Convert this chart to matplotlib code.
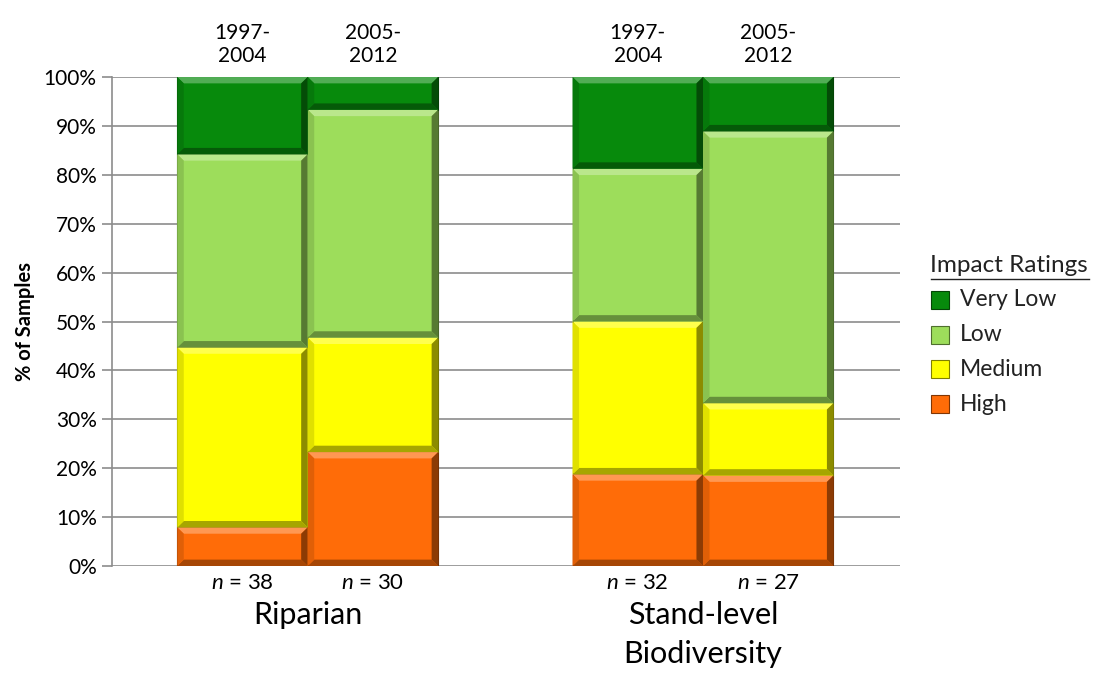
import numpy as np
import matplotlib.pyplot as plt
from matplotlib.patches import Polygon, Rectangle
from matplotlib.lines import Line2D
from matplotlib.colors import to_rgb

plt.rcParams['font.family'] = ['Lato', 'DejaVu Sans']
plt.rcParams['mathtext.fontset'] = 'custom'
plt.rcParams['mathtext.it'] = 'Lato:italic'
plt.rcParams['mathtext.rm'] = 'Lato'

# share of samples per rating (%), bottom to top: High, Medium, Low, Very Low
periods = ['1997-\n2004', '2005-\n2012', '1997-\n2004', '2005-\n2012']
groups = ['Riparian', 'Stand-level\nBiodiversity']
n_samples = [38, 30, 32, 27]
ratings = ['High', 'Medium', 'Low', 'Very Low']
high = [7.9, 23.3, 18.75, 18.5]
medium = [36.8, 23.4, 31.25, 14.8]
low = [39.5, 46.6, 31.25, 55.6]
very_low = [15.8, 6.7, 18.75, 11.1]
colors = ['#ff6c08', '#ffff00', '#9ddd5b', '#078a0c']

xpos = np.array([0, 1, 3.03, 4.03])
width = 1.0

fig = plt.figure(figsize=(10.97, 6.75), dpi=100)
ax = fig.add_axes([0.1021, 0.1615, 0.7183, 0.7244])


def shade(c, k):
    r = np.array(to_rgb(c))
    if k > 0:
        return tuple(r + (1 - r) * k)
    return tuple(r * (1 + k))


def bevel(ax, x0, x1, y0, y1, c, bx=0.05, by=1.3):
    # flat face plus four slanted edges for the raised look
    ax.add_patch(Rectangle((x0, y0), x1 - x0, y1 - y0, facecolor=c,
                           edgecolor=shade(c, -0.55), lw=0.8, zorder=3))
    sides = [
        ([(x0, y1), (x1, y1), (x1 - bx, y1 - by), (x0 + bx, y1 - by)], shade(c, 0.3)),
        ([(x0, y0), (x1, y0), (x1 - bx, y0 + by), (x0 + bx, y0 + by)], shade(c, -0.35)),
        ([(x0, y0), (x0 + bx, y0 + by), (x0 + bx, y1 - by), (x0, y1)], shade(c, -0.12)),
        ([(x1, y0), (x1 - bx, y0 + by), (x1 - bx, y1 - by), (x1, y1)], shade(c, -0.45)),
    ]
    for pts, col in sides:
        ax.add_patch(Polygon(pts, closed=True, facecolor=col, edgecolor='none', zorder=4))


series = [high, medium, low, very_low]
bottom = np.zeros(len(xpos))
for vals, c in zip(series, colors):
    vals = np.array(vals)
    for x, b, v in zip(xpos, bottom, vals):
        bevel(ax, x - width / 2, x + width / 2, b, b + v, c)
    bottom += vals

ax.set_xlim(-1.0, 5.04)
ax.set_ylim(0, 100)
ax.set_yticks(np.arange(0, 101, 10))
ax.set_yticklabels([f'{v}%' for v in range(0, 101, 10)], fontsize=15)
ax.yaxis.grid(True, color='#8c8c8c', lw=1.2, zorder=0)
ax.set_axisbelow(True)
ax.tick_params(axis='y', length=7, width=1.2, color='#8c8c8c', pad=4)
ax.tick_params(axis='x', length=0)
ax.set_xticks([])
for s in ['top', 'right', 'bottom']:
    ax.spines[s].set_visible(False)
ax.spines['left'].set_color('#8c8c8c')
ax.spines['left'].set_linewidth(1.2)
ax.set_ylabel('% of Samples', fontsize=14.5, fontweight='bold', labelpad=6)

for x, p, n in zip(xpos, periods, n_samples):
    ax.text(x, 2.2 + 100, p, ha='center', va='bottom', fontsize=15, linespacing=1.2)
    ax.text(x, -1.5, f'$n$ = {n}', ha='center', va='top', fontsize=16)

for g, gx in zip(groups, [0.5, 3.53]):
    ax.text(gx, -7.2, g, ha='center', va='top', fontsize=22, linespacing=1.45)

# legend drawn by hand so the title can be underlined
fig.text(0.848, 0.607, 'Impact Ratings', fontsize=17.5, ha='left', va='center', color='#222222')
fig.add_artist(Line2D([0.849, 0.993], [0.587, 0.587], color='#222222', lw=1, transform=fig.transFigure))
leg_y = [0.556, 0.504, 0.453, 0.401]
for y, name, c in zip(leg_y, ratings[::-1], colors[::-1]):
    fig.add_artist(Rectangle((0.849, y - 0.0135), 0.0165, 0.027, facecolor=c,
                             edgecolor=shade(c, -0.5), lw=0.8, transform=fig.transFigure))
    fig.text(0.875, y, name, fontsize=16.5, ha='left', va='center', color='#222222')

fig.savefig('out.png', dpi=100)
